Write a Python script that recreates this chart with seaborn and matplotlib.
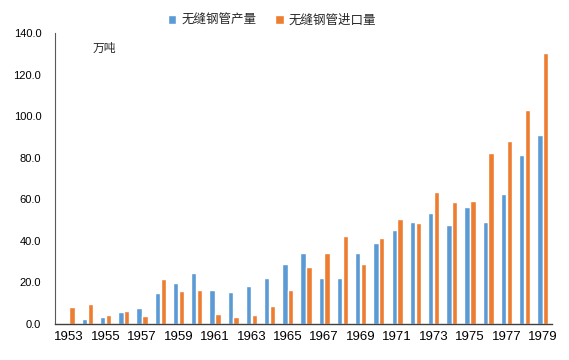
import matplotlib
matplotlib.use('Agg')
import matplotlib.pyplot as plt
import seaborn as sns
import pandas as pd

years = list(range(1953, 1980))
production = [0, 2.2, 3.5, 5.9, 7.5, 15.0, 19.7, 24.5, 16.5, 15.4, 18.1, 22.3, 28.7,
              34.1, 22.3, 22.3, 34.1, 38.8, 45.2, 49.3, 53.5, 47.7, 56.2, 49.3, 62.6, 81.5, 91.0]
imports = [8.3, 9.8, 4.5, 6.4, 4.0, 21.8, 16.0, 16.5, 4.9, 3.4, 4.5, 8.6, 16.5,
           27.5, 34.1, 42.5, 28.7, 41.5, 50.5, 48.7, 63.6, 58.8, 59.3, 82.2, 88.0, 102.9, 130.3]
series_names = ['无缝钢管产量', '无缝钢管进口量']
colors = ['#5B9BD5', '#ED7D31']

df = pd.DataFrame({
    'year': [str(y) for y in years] * 2,
    'value': production + imports,
    'series': [series_names[0]] * len(years) + [series_names[1]] * len(years),
})

sns.set_theme(style='white')
plt.rcParams['font.family'] = ['Liberation Sans', 'Noto Sans CJK SC']

fig = plt.figure(figsize=(5.69, 3.6), dpi=100)
ax = fig.add_axes([0.097, 0.1, 0.873, 0.808])
sns.barplot(data=df, x='year', y='value', hue='series', palette=colors, saturation=1,
            width=0.64, gap=0.08, ax=ax, legend=True)

ax.set_xlim(-0.77, 26.5)
ax.set_ylim(0, 140)
ax.set_yticks(range(0, 141, 20))
ax.set_yticklabels([f'{v:.1f}' for v in range(0, 141, 20)])
ax.set_xticks(range(0, len(years), 2))
ax.set_xticklabels([str(y) for y in years[::2]])
ax.set_xlabel('')
ax.set_ylabel('')
ax.tick_params(axis='y', length=0, pad=10, labelsize=8, colors='black')
ax.tick_params(axis='x', length=0, pad=5, labelsize=9.5, colors='black')
for s in ['top', 'right']:
    ax.spines[s].set_visible(False)
ax.spines['left'].set_color('#595959')
ax.spines['bottom'].set_color('#404040')
ax.spines['left'].set_linewidth(0.8)
ax.spines['bottom'].set_linewidth(1.0)

ax.text(0.162, 0.864, '万吨', transform=fig.transFigure, fontsize=8.5, va='center', ha='left')

h, l = ax.get_legend_handles_labels()
ax.legend_.remove()
fig.legend(h, l, loc='center', bbox_to_anchor=(0.478, 0.942), ncol=2, frameon=False,
           fontsize=9, handlelength=0.7, handleheight=0.7, handletextpad=0.4, columnspacing=1.5)

fig.savefig('out.png', dpi=100)
